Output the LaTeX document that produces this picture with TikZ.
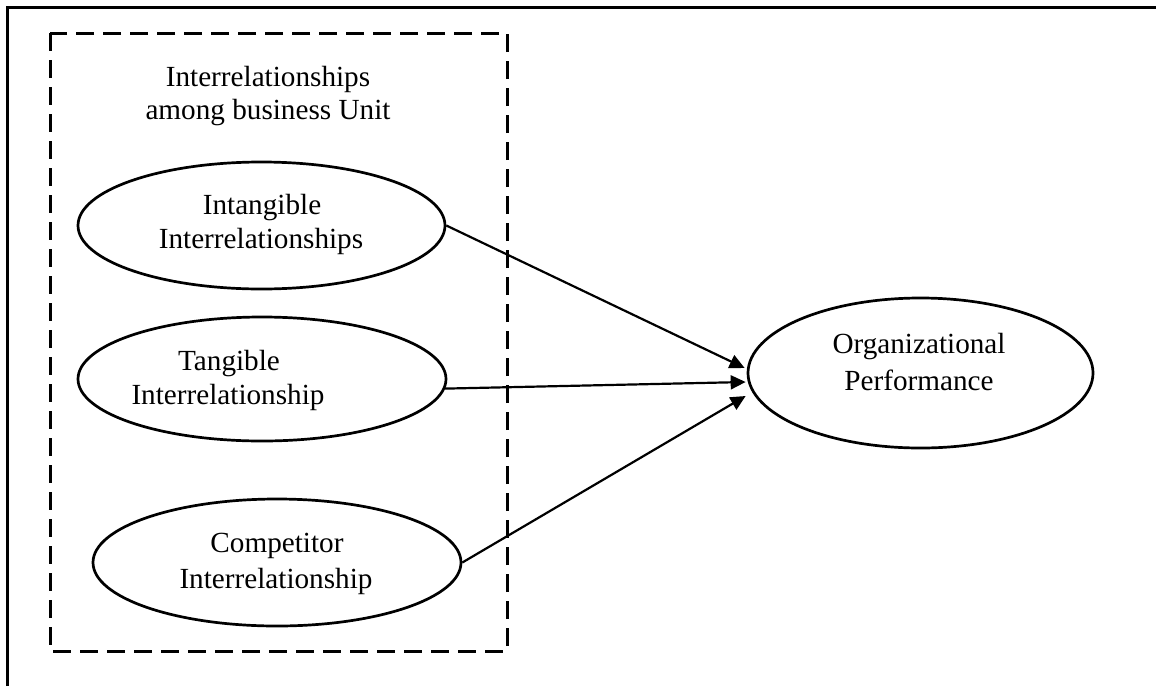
\documentclass[tikz,border=0pt]{standalone}
\usepackage{fontspec}
\setmainfont{Liberation Serif}
\usetikzlibrary{shapes.geometric,arrows.meta,calc}

\begin{document}
\begin{tikzpicture}[x=0.5pt,y=-0.5pt,
  every node/.style={font=\fontsize{14.6}{17.5}\selectfont},
  frame/.style={line width=1.5pt},
  group/.style={line width=1.5pt,dash pattern=on 9pt off 4.5pt},
  construct/.style={draw,ellipse,line width=1.35pt,inner sep=0pt},
  txt/.style={anchor=base,inner sep=0pt},
  path/.style={line width=1.1pt,-{Triangle[length=7.5pt,width=7pt]}}
]
\useasboundingbox (0,0) rectangle (1156,686);

% outer frame (top and left edges)
\draw[frame] (7,686) -- (7,7) -- (1156,7);

% dashed group of business-unit interrelationships
\draw[group] (50,33) rectangle (507,651);
\node[txt] (g1) at (268,86) {Interrelationships};
\node[txt] (g2) at (268,119) {among business Unit};

% constructs
\node[construct,minimum width=183.5pt,minimum height=63.5pt] (intang) at (261.5,225.5) {};
\node[txt] (intang1) at (262,214) {Intangible};
\node[txt] (intang2) at (261,248) {Interrelationships};

\node[construct,minimum width=184pt,minimum height=62pt] (tang) at (262,379) {};
\node[txt] (tang1) at (229,370) {Tangible};
\node[txt] (tang2) at (228,404) {Interrelationship};

\node[construct,minimum width=184pt,minimum height=63.5pt] (comp) at (277,562.5) {};
\node[txt] (comp1) at (277,552) {Competitor};
\node[txt] (comp2) at (276,588) {Interrelationship};

\node[construct,minimum width=172.5pt,minimum height=75pt] (org) at (920.5,373) {};
\node[txt] (org1) at (919,353) {Organizational};
\node[txt] (org2) at (919,390) {Performance};

% arrow targets on the left of the outcome
\coordinate (in1) at ($(org.west)+(-2,-5)$);
\coordinate (in2) at ($(org.west)+(-1,9)$);
\coordinate (in3) at ($(org.west)+(-1,23)$);

% paths
\draw[path] (intang.east) -- (in1);
\draw[path] (tang.-3) -- (in2);
\draw[path] (comp.east) -- (in3);
\end{tikzpicture}
\end{document}
